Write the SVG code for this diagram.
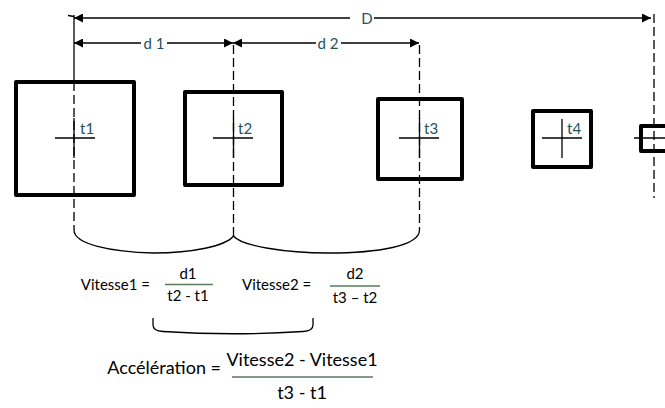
<svg xmlns="http://www.w3.org/2000/svg" width="665" height="408" viewBox="0 0 665 408">
<defs>
<marker id="arr" viewBox="0 0 10 10" refX="10" refY="5" markerWidth="10" markerHeight="9" markerUnits="userSpaceOnUse" orient="auto-start-reverse">
<path d="M0,0 L10,5 L0,10 z" fill="#000"/>
</marker>
<style>
.box{fill:none;stroke:#000;stroke-width:4;stroke-linejoin:round}
.cross{stroke:#000;stroke-width:1.3;fill:none}
.lbl{font-family:Lato,"Liberation Sans",sans-serif;font-size:15px;fill:#24525e}
.dim{stroke:#000;stroke-width:1.3;fill:none}
.dash{stroke:#000;stroke-width:1.3;fill:none;stroke-dasharray:9 4}
.brace{stroke:#000;stroke-width:1.3;fill:none}
.f{font-family:Lato,"Liberation Sans",sans-serif;font-size:15px;fill:#000}
.f2{font-family:Lato,"Liberation Sans",sans-serif;font-size:18px;fill:#000}
.frac{stroke:#557a5c;stroke-width:1.5}
</style>
</defs>
<rect width="665" height="408" fill="#fff"/>

<g id="connectors">
<line class="dim" x1="68" y1="15.5" x2="74" y2="16.5"/>
<line class="dim" x1="74" y1="18" x2="350" y2="18" marker-start="url(#arr)"/>
<line class="dim" x1="374" y1="18" x2="651" y2="18" marker-end="url(#arr)"/>
<text class="lbl" x="367" y="24" text-anchor="middle" font-size="16">D</text>
<line class="dim" x1="74" y1="43" x2="141" y2="43" marker-start="url(#arr)"/>
<line class="dim" x1="167" y1="43" x2="233" y2="43" marker-end="url(#arr)"/>
<text class="lbl" x="154" y="49" text-anchor="middle" font-size="16">d 1</text>
<line class="dim" x1="233" y1="43" x2="316" y2="43" marker-start="url(#arr)"/>
<line class="dim" x1="341" y1="43" x2="419" y2="43" marker-end="url(#arr)"/>
<text class="lbl" x="328" y="49" text-anchor="middle" font-size="16">d 2</text>
<line class="dim" x1="74" y1="15" x2="74" y2="82"/>
<line class="dash" x1="74" y1="82" x2="74" y2="230"/>
<line class="dash" x1="233.5" y1="45" x2="233.5" y2="236"/>
<line class="dash" x1="419.5" y1="45" x2="419.5" y2="230"/>
<line class="dash" x1="654" y1="14" x2="654" y2="198"/>
<path class="brace" d="M74,230 C74,244 110,252 154,253 C192,253 226,246 233.5,236"/>
<path class="brace" d="M233.5,236 C241,246 286,253 328,253 C378,253 419.5,246 419.5,230"/>
</g>

<g id="node-t1">
<rect class="box" x="16" y="82" width="118" height="113"/>
<line class="cross" x1="55" y1="138" x2="95" y2="138"/>
<line class="cross" x1="74" y1="118" x2="74" y2="158"/>
<text class="lbl" x="80" y="134">t1</text>
</g>
<g id="node-t2">
<rect class="box" x="185" y="92" width="97" height="93"/>
<line class="cross" x1="213" y1="138" x2="253" y2="138"/>
<line class="cross" x1="233.5" y1="118" x2="233.5" y2="158"/>
<text class="lbl" x="238" y="134">t2</text>
</g>
<g id="node-t3">
<rect class="box" x="378" y="99" width="84" height="80"/>
<line class="cross" x1="399" y1="138" x2="439" y2="138"/>
<line class="cross" x1="419.5" y1="118" x2="419.5" y2="158"/>
<text class="lbl" x="424" y="134">t3</text>
</g>
<g id="node-t4">
<rect class="box" x="533" y="111" width="58" height="56"/>
<line class="cross" x1="542" y1="138" x2="582" y2="138"/>
<line class="cross" x1="562" y1="119" x2="562" y2="158"/>
<text class="lbl" x="567" y="134">t4</text>
</g>
<g id="node-t5">
<rect class="box" x="641" y="126" width="26" height="25" stroke-width="3.5"/>
<line class="cross" x1="634" y1="138" x2="674" y2="138"/>
</g>

<g id="formulas">
<text class="f" x="150" y="290" text-anchor="end">Vitesse1 =</text>
<text class="f" x="188" y="279" text-anchor="middle">d1</text>
<line class="frac" x1="165" y1="284.5" x2="213" y2="284.5"/>
<text class="f" x="188" y="301" text-anchor="middle">t2 - t1</text>
<text class="f" x="242" y="290">Vitesse2 =</text>
<text class="f" x="355" y="279" text-anchor="middle">d2</text>
<line class="frac" x1="330" y1="286" x2="380" y2="286"/>
<text class="f" x="355" y="303" text-anchor="middle">t3 – t2</text>
<path class="brace" d="M153,318 L153,325 Q153,331 163,331.5 Q233,336 303,331.5 Q313,331 313,325 L313,318"/>
<text class="f2" x="221" y="374" text-anchor="end">Accélération =</text>
<text class="f2" x="302" y="366" text-anchor="middle">Vitesse2 - Vitesse1</text>
<line class="frac" x1="232" y1="377" x2="373" y2="377"/>
<text class="f2" x="302" y="399" text-anchor="middle">t3 - t1</text>
</g>
</svg>
